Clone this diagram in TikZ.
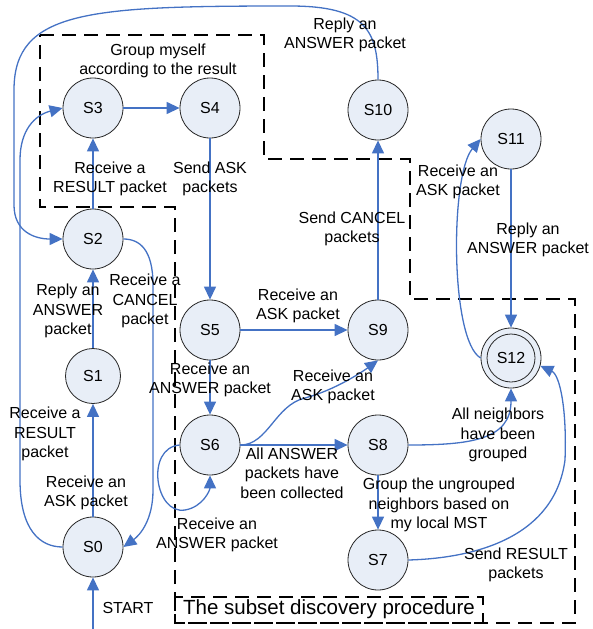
\documentclass[tikz,border=0pt]{standalone}
\usepackage{fontspec}
\setmainfont{Liberation Sans}
\usetikzlibrary{arrows.meta}
\definecolor{lblue}{RGB}{68,114,196}
\definecolor{sfill}{RGB}{232,238,247}
\begin{document}
\begin{tikzpicture}[x=1pt,y=-1pt,
  st/.style={circle,draw=black!85,line width=0.8pt,fill=sfill,minimum size=60pt,inner sep=0pt,font=\fontsize{16}{19}\selectfont},
  lab/.style={align=center,inner sep=0pt,font=\fontsize{16}{19.5}\selectfont},
  ed/.style={draw=lblue,line width=1.3pt,-{Triangle[length=13pt,width=12pt]}},
  boxline/.style={draw=black,line width=2.5pt,dash pattern=on 14pt off 8pt}
]
\useasboundingbox (0,0) rectangle (593,629);

% dashed regions
\draw[boxline] (40,35) -- (264,35) -- (264,159) -- (410,159) -- (410,299) -- (575,299) -- (575,623) -- (175,623) -- (175,207) -- (40,207) -- cycle;
\draw[boxline] (175,597) rectangle (483,623);
\node[inner sep=0pt,font=\fontsize{20.5}{24}\selectfont] (title) at (329,609) {The subset discovery procedure};

% states
\node[st] (S3) at (93,108) {S3};
\node[st] (S4) at (210,108) {S4};
\node[st] (S10) at (378,110) {S10};
\node[st] (S11) at (511,139) {S11};
\node[st] (S2) at (93,239) {S2};
\node[st,minimum size=55pt] (S1) at (93,376) {S1};
\node[st] (S0) at (93,547) {S0};
\node[st] (S5) at (210,330) {S5};
\node[st] (S9) at (378,330) {S9};
\node[st] (S6) at (210,445) {S6};
\node[st] (S8) at (378,445) {S8};
\node[st] (S7) at (378,560) {S7};
\node[st] (S12) at (511,358) {};
\node[st,minimum size=48pt] (S12i) at (S12) {S12};

\coordinate (start) at (93,629);

% straight transitions
\draw[ed] (start) -- (S0);
\draw[ed] (S0) -- (S1);
\draw[ed] (S1) -- (S2);
\draw[ed] (S2) -- (S3);
\draw[ed] (S3) -- (S4);
\draw[ed] (S4) -- (S5);
\draw[ed] (S5) -- (S9);
\draw[ed] (S5) -- (S6);
\draw[ed] (S6) -- (S8);
\draw[ed] (S8) -- (S7);
\draw[ed] (S9) -- (S10);
\draw[ed] (S11) -- (S12);

% curved transitions
\draw[ed] (S10.north) .. controls (378,30) and (365,6) .. (290,6) .. controls (90,6) and (14,10) .. (14,90) -- (14,205) .. controls (14,232) and (35,239) .. (S2.west);
\draw[ed] (S0.west) .. controls (40,547) and (20,530) .. (20,480) -- (20,160) .. controls (20,130) and (35,115) .. (S3.west);
\draw[ed] (S2.east) .. controls (140,239) and (153,250) .. (153,285) -- (153,490) .. controls (153,520) and (140,535) .. (S0.east);
\draw[ed] (S6.west) .. controls (145,448) and (155,515) .. (185,510) .. controls (203,507) and (210,490) .. (S6.south);
\draw[ed] (S6.east) .. controls (268,445) and (275,405) .. (305,398) .. controls (335,390) and (362,372) .. (S9.south);
\draw[ed] (S8.east) .. controls (470,445) and (511,440) .. (S12.south);
\draw[ed] (S7.east) .. controls (480,558) and (555,535) .. (565,460) .. controls (567,410) and (560,375) .. (S12.-15);
\draw[ed] (S12.west) .. controls (450,340) and (450,175) .. (S11.west);

% labels
\node[lab] (lstart) at (128,608) {START};
\node[lab] (l01) at (86,493) {Receive an\\ASK packet};
\node[lab] (l03) at (45,434) {Receive a\\RESULT\\packet};
\node[lab] (l12) at (68,311) {Reply an\\ANSWER\\packet};
\node[lab] (l20) at (145,301) {Receive a\\CANCEL\\packet};
\node[lab] (l23) at (110,179) {Receive a\\RESULT packet};
\node[lab] (l34) at (158,61) {Group myself\\according to the result};
\node[lab] (l45) at (210,179) {Send ASK\\packets};
\node[lab] (l102) at (345,35) {Reply an\\ANSWER packet};
\node[lab] (l59) at (298,306) {Receive an\\ASK packet};
\node[lab] (l56) at (210,380) {Receive an\\ANSWER packet};
\node[lab] (l910) at (352,229) {Send CANCEL\\packets};
\node[lab] (l69) at (333,387) {Receive an\\ASK packet};
\node[lab] (l68) at (292,473) {All ANSWER\\packets have\\been collected};
\node[lab] (l66) at (217,535) {Receive an\\ANSWER packet};
\node[lab] (l87) at (439,505) {Group the ungrouped\\neighbors based on\\my local MST};
\node[lab] (l812) at (498,435) {All neighbors\\have been\\grouped};
\node[lab] (l712) at (516,565) {Send RESULT\\packets};
\node[lab] (l1112) at (528,240) {Reply an\\ANSWER packet};
\node[lab] (l1211) at (458,182) {Receive an\\ASK packet};
\end{tikzpicture}
\end{document}
